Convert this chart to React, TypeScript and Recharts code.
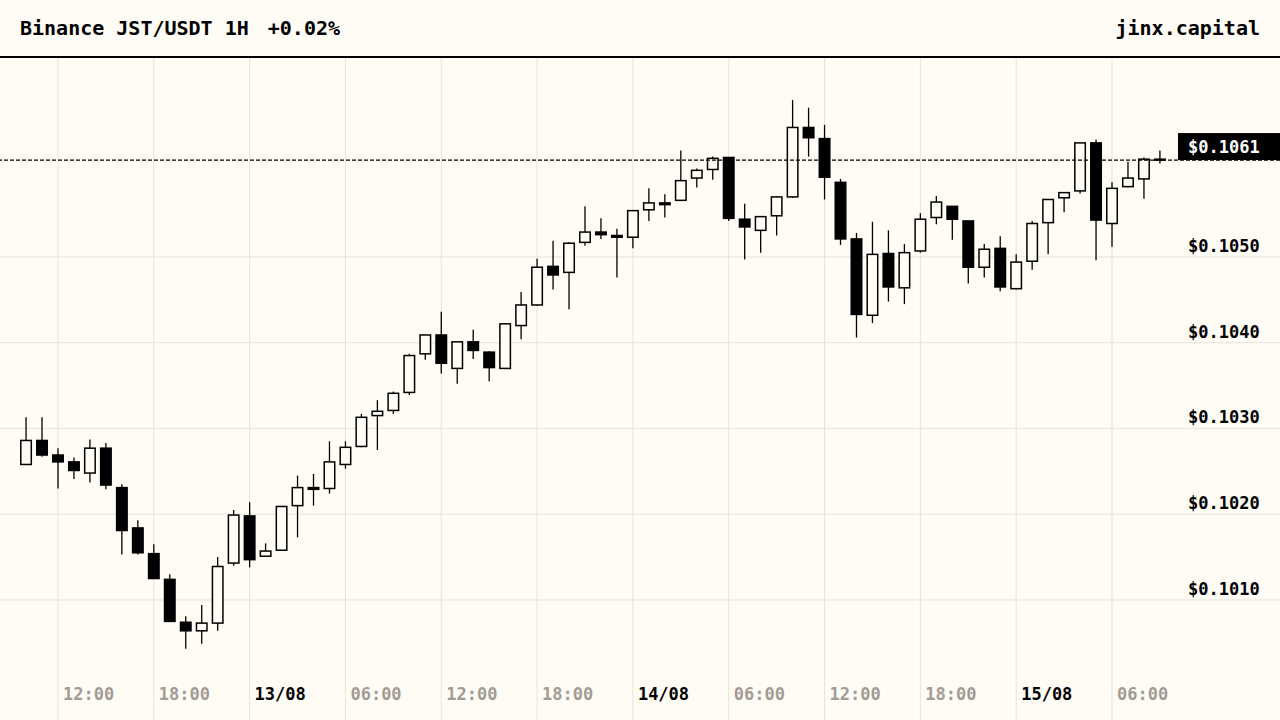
import { Bar, CartesianGrid, ComposedChart, ReferenceLine, XAxis, YAxis } from 'recharts';

const BG = '#fffbf5';
const GRID = '#e6e2dc';
const MUTED = '#a29b94';
const FONT = '"DejaVu Sans Mono", monospace';

// hourly candles, 12/08 10:00 -> 15/08 09:00
const opens = [
  0.10258, 0.10286, 0.10269, 0.10261, 0.10248, 0.10277, 0.10231, 0.10184, 0.10154, 0.10124,
  0.10074, 0.10064, 0.10073, 0.10143, 0.10198, 0.10151, 0.10158, 0.1021, 0.10231, 0.1023,
  0.10258, 0.10279, 0.10315, 0.10321, 0.10342, 0.10387, 0.10409, 0.1037, 0.10401, 0.10389,
  0.1037, 0.1042, 0.10444, 0.10489, 0.10482, 0.10517, 0.10529, 0.10525, 0.10523, 0.10555,
  0.10563, 0.10566, 0.10592, 0.10602, 0.10616, 0.10544, 0.10531, 0.10548, 0.1057, 0.10651,
  0.10638, 0.10587, 0.10521, 0.10432, 0.10504, 0.10464, 0.10507, 0.10546, 0.10559, 0.10542,
  0.10488, 0.1051, 0.10463, 0.10495, 0.1054, 0.10569, 0.10577, 0.10633, 0.10539, 0.10582,
  0.10591, 0.10614,
];
const highs = [
  0.10313, 0.10313, 0.10277, 0.10266, 0.10287, 0.10283, 0.10235, 0.10193, 0.10165, 0.1013,
  0.10081, 0.10094, 0.1015, 0.10205, 0.10214, 0.10166, 0.10209, 0.10245, 0.10247, 0.10285,
  0.10285, 0.10317, 0.10333, 0.10343, 0.10387, 0.10409, 0.10436, 0.10401, 0.10415, 0.1039,
  0.10422, 0.10459, 0.10498, 0.10519, 0.10517, 0.10559, 0.10545, 0.10533, 0.10554, 0.1058,
  0.10573, 0.10624, 0.10603, 0.10617, 0.10616, 0.10562, 0.10547, 0.10571, 0.10683, 0.10674,
  0.10654, 0.10591, 0.10528, 0.10541, 0.10531, 0.10515, 0.10551, 0.10571, 0.10559, 0.10542,
  0.10515, 0.10524, 0.10503, 0.10542, 0.10567, 0.10575, 0.10633, 0.10637, 0.10587, 0.10611,
  0.10616, 0.10624,
];
const lows = [
  0.10258, 0.10267, 0.1023, 0.10241, 0.10237, 0.10229, 0.10153, 0.10153, 0.10125, 0.10075,
  0.10043, 0.10049, 0.10064, 0.1014, 0.10138, 0.10151, 0.10158, 0.10173, 0.1021, 0.10224,
  0.10253, 0.10278, 0.10275, 0.10317, 0.10339, 0.1038, 0.10364, 0.10352, 0.10381, 0.10355,
  0.1037, 0.10404, 0.10443, 0.10462, 0.10439, 0.10513, 0.10521, 0.10476, 0.1051, 0.10542,
  0.10546, 0.10566, 0.10581, 0.1059, 0.10542, 0.10497, 0.10505, 0.10525, 0.10569, 0.10617,
  0.10567, 0.10514, 0.10406, 0.10423, 0.10448, 0.10445, 0.10505, 0.10538, 0.1052, 0.10469,
  0.10476, 0.1046, 0.10462, 0.10485, 0.10503, 0.10552, 0.10574, 0.10496, 0.10512, 0.10581,
  0.10568, 0.10609,
];
const closes = [
  0.10286, 0.10269, 0.10261, 0.10251, 0.10277, 0.10234, 0.10181, 0.10155, 0.10125, 0.10075,
  0.10064, 0.10073, 0.10139, 0.10199, 0.10147, 0.10157, 0.10209, 0.10231, 0.10229, 0.10261,
  0.10278, 0.10313, 0.1032, 0.10341, 0.10385, 0.10409, 0.10376, 0.10401, 0.10391, 0.10371,
  0.10422, 0.10444, 0.10488, 0.10479, 0.10516, 0.10529, 0.10526, 0.10523, 0.10554, 0.10563,
  0.10561, 0.10589, 0.10601, 0.10615, 0.10545, 0.10535, 0.10547, 0.1057, 0.10651, 0.10639,
  0.10593, 0.10521, 0.10433, 0.10503, 0.10465, 0.10505, 0.10544, 0.10564, 0.10544, 0.10488,
  0.10509, 0.10465, 0.10494, 0.10539, 0.10567, 0.10575, 0.10633, 0.10543, 0.1058, 0.10592,
  0.10614, 0.10613,
];

const xTicks = [2, 8, 14, 20, 26, 32, 38, 44, 50, 56, 62, 68];
const xTickLabels = ['12:00', '18:00', '13/08', '06:00', '12:00', '18:00', '14/08', '06:00', '12:00', '18:00', '15/08', '06:00'];
const priceTicks = [0.101, 0.102, 0.103, 0.104, 0.105];

const data = opens.map((open, i) => ({
  i,
  open,
  high: highs[i],
  low: lows[i],
  close: closes[i],
  range: [lows[i], highs[i]],
}));
const lastClose = closes[closes.length - 1];

function Candle(props: any) {
  const { x, y, width, height, payload } = props;
  const { open, close, high, low } = payload;
  const cx = x + width / 2;
  const perUnit = height / (high - low);
  const yOf = (v: number) => y + (high - v) * perUnit;
  const up = close >= open;
  const top = yOf(Math.max(open, close));
  const bottom = yOf(Math.min(open, close));
  return (
    <g>
      <line x1={cx} x2={cx} y1={y} y2={y + height} stroke="#000" strokeWidth={1.3} />
      <rect
        x={cx - 5.25}
        y={top}
        width={10.5}
        height={Math.max(bottom - top, 1)}
        fill={up ? BG : '#000'}
        stroke="#000"
        strokeWidth={1.5}
      />
    </g>
  );
}

function TimeTick({ x, payload }: any) {
  const label = xTickLabels[xTicks.indexOf(payload.value)];
  if (!label) return null;
  const isDay = label.includes('/');
  return (
    <text x={x + 5} y={642} fill={isDay ? '#000' : MUTED} fontSize={17} fontWeight="bold" fontFamily={FONT}>
      {label}
    </text>
  );
}

function PriceTick({ y, payload }: any) {
  return (
    <text x={1188} y={y - 5} fill="#000" fontSize={17} fontWeight="bold" fontFamily={FONT}>
      {`$${payload.value.toFixed(4)}`}
    </text>
  );
}

function PriceTag({ viewBox }: any) {
  const right = viewBox.x + viewBox.width;
  return (
    <g>
      <rect x={right - 102} y={viewBox.y - 27} width={102} height={27} fill="#000" />
      <text x={right - 92} y={viewBox.y - 7} fill="#fff" fontSize={17} fontWeight="bold" fontFamily={FONT}>
        {`$${lastClose.toFixed(4)}`}
      </text>
    </g>
  );
}

export default function App() {
  return (
    <div style={{ width: 1280, height: 720, background: BG, fontFamily: FONT, overflow: 'hidden' }}>
      <style>{'body { margin: 0; }'}</style>
      <div
        style={{
          height: 56,
          borderBottom: '2px solid #000',
          display: 'flex',
          alignItems: 'center',
          justifyContent: 'space-between',
          padding: '0 20px',
          fontSize: 20,
          fontWeight: 'bold',
          color: '#000',
        }}
      >
        <div>
          <span>Binance JST/USDT 1H</span>
          <span style={{ marginLeft: 19 }}>+0.02%</span>
        </div>
        <div>jinx.capital</div>
      </div>
      <ComposedChart width={1280} height={662} data={data} margin={{ top: 0, right: 0, bottom: 0, left: 0 }}>
        <CartesianGrid stroke={GRID} strokeWidth={1} syncWithTicks />
        <XAxis
          dataKey="i"
          type="number"
          domain={[-1.63, 78.52]}
          allowDataOverflow
          ticks={xTicks}
          interval={0}
          mirror
          axisLine={false}
          tickLine={false}
          tick={<TimeTick />}
        />
        <YAxis
          type="number"
          orientation="right"
          domain={[0.0996, 0.10732]}
          allowDataOverflow
          ticks={priceTicks}
          interval={0}
          mirror
          axisLine={false}
          tickLine={false}
          tick={<PriceTick />}
        />
        <ReferenceLine y={lastClose} stroke="#000" strokeWidth={1.2} strokeDasharray="4 2" label={<PriceTag />} />
        <Bar dataKey="range" barSize={12} shape={<Candle />} isAnimationActive={false} />
      </ComposedChart>
    </div>
  );
}
